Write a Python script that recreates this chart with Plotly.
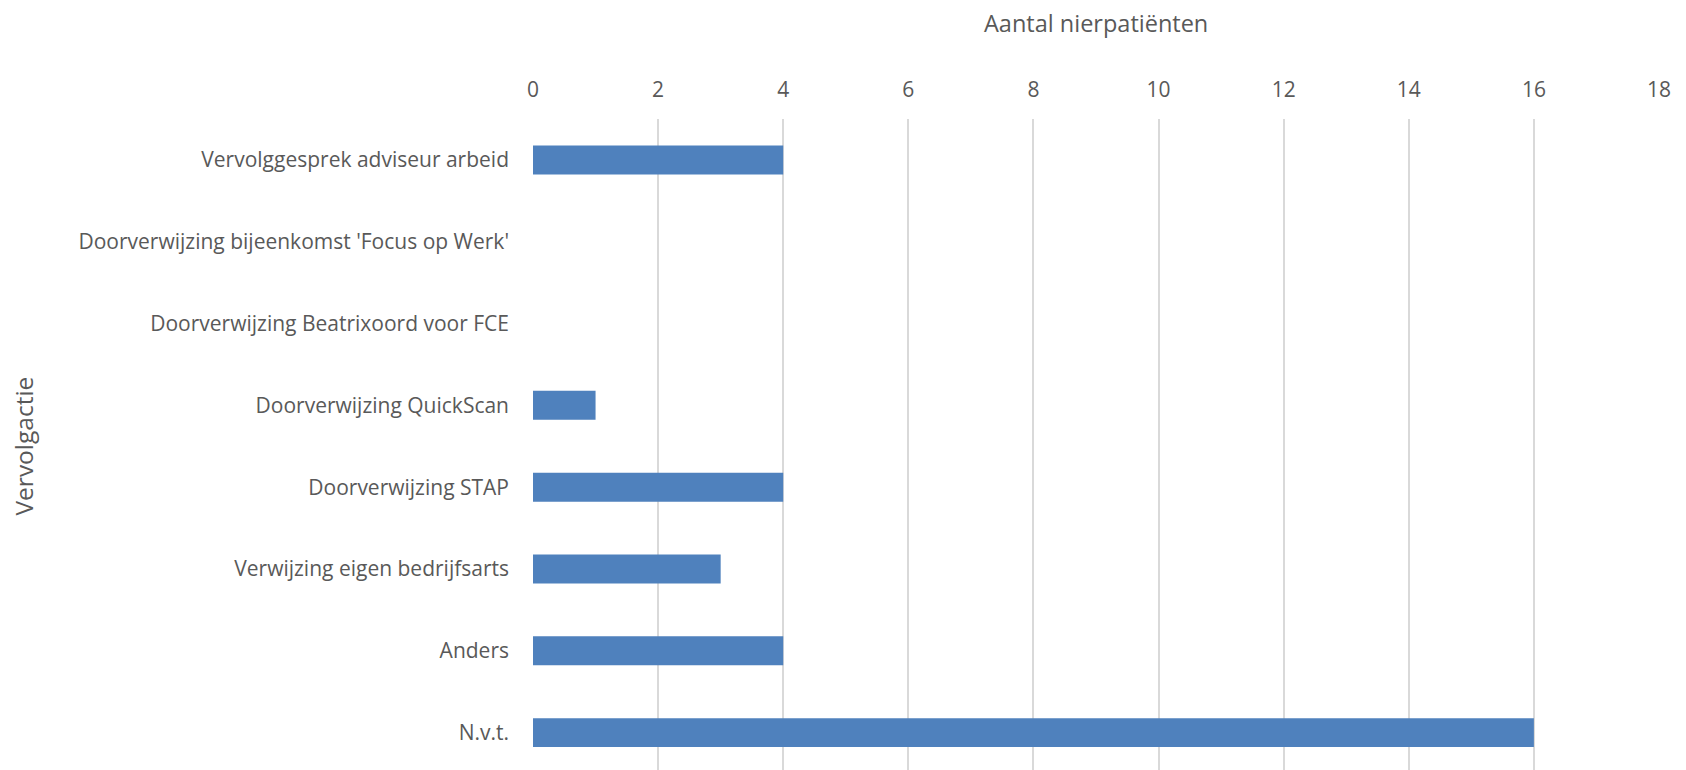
import plotly.graph_objects as go

categories = [
    "Vervolggesprek adviseur arbeid",
    "Doorverwijzing bijeenkomst 'Focus op Werk'",
    "Doorverwijzing Beatrixoord voor FCE",
    "Doorverwijzing QuickScan",
    "Doorverwijzing STAP",
    "Verwijzing eigen bedrijfsarts",
    "Anders",
    "N.v.t.",
]
values = [4, 0, 0, 1, 4, 3, 4, 16]
x_title = "Aantal nierpatiënten"
y_title = "Vervolgactie"

fig = go.Figure(go.Bar(
    y=categories,
    x=values,
    orientation="h",
    marker=dict(color="#4F81BD", line=dict(width=0)),
))

font_color = "#595959"
fam = "Open Sans"
# the page body has an 8px margin, so the figure is 8px smaller and offset
fig.update_layout(
    width=1678, height=762,
    paper_bgcolor="white", plot_bgcolor="white",
    margin=dict(l=525, r=27, t=111, b=0, autoexpand=False),
    bargap=0.646,
    showlegend=False,
    font=dict(family=fam, color=font_color, size=21),
    xaxis=dict(
        side="top",
        range=[0, 18],
        dtick=2,
        showgrid=True, gridcolor="#D9D9D9", gridwidth=1.5,
        zeroline=False,
        showline=False,
        ticks="", ticklabelstandoff=17,
        tickfont=dict(size=21, color=font_color),
        automargin=False,
    ),
    yaxis=dict(
        categoryorder="array",
        categoryarray=categories[::-1],
        range=[-0.457, 7.5],
        showgrid=False, zeroline=False, showline=False,
        ticks="", ticklabelstandoff=23,
        tickfont=dict(size=21, color=font_color),
        automargin=False,
    ),
    annotations=[
        dict(text=x_title, xref="paper", yref="paper", x=0.5, y=1,
             xanchor="center", yanchor="middle", yshift=96, showarrow=False,
             font=dict(family=fam, size=23.5, color=font_color)),
        dict(text=y_title, xref="paper", yref="paper", x=0, y=0.5,
             xanchor="center", yanchor="middle", xshift=-510, yshift=-2,
             textangle=-90, showarrow=False,
             font=dict(family=fam, size=24.5, color=font_color)),
    ],
)

fig.write_html("out.html")
